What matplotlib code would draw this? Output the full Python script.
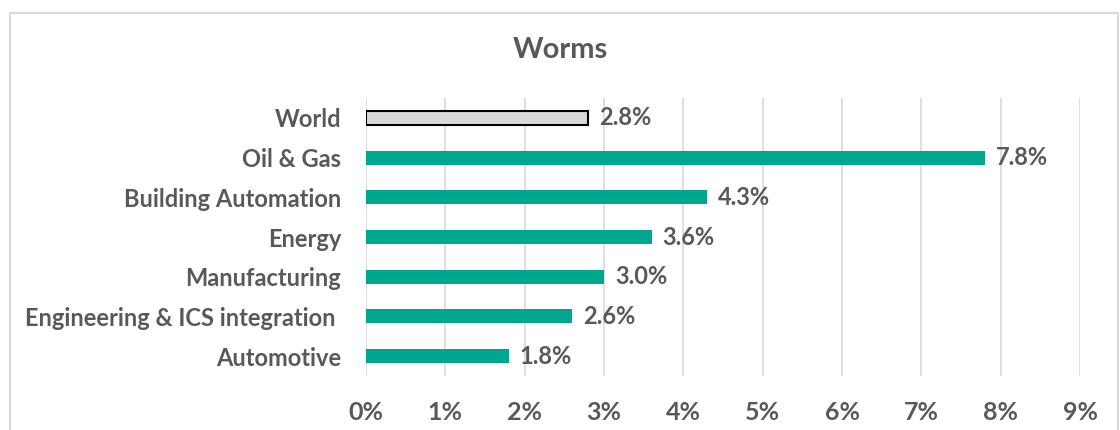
import matplotlib.pyplot as plt
from matplotlib.patches import Rectangle
from matplotlib.ticker import MultipleLocator, FuncFormatter

# === Daten ===
categories = ['World', 'Oil & Gas', 'Building Automation', 'Energy',
              'Manufacturing', 'Engineering & ICS integration ', 'Automotive']
values = [2.8, 7.8, 4.3, 3.6, 3.0, 2.6, 1.8]

text_color = '#595959'
bar_color = '#00A78E'
world_color = '#D9D9D9'

plt.rcParams['font.family'] = ['Lato', 'DejaVu Sans']

fig = plt.figure(figsize=(11.2, 4.3), dpi=100)
ax = fig.add_axes([366 / 1120, 1 - 376 / 430, 714 / 1120, 278 / 430])

# === Rahmen um das Diagramm ===
fig.patches.append(Rectangle((10 / 1120, -0.1), 1108 / 1120, 0.1 + 1 - 13 / 430,
                             transform=fig.transFigure, fill=False,
                             edgecolor='#D9D9D9', linewidth=1.5))

y_pos = list(range(len(categories)))
colors = [world_color] + [bar_color] * (len(categories) - 1)
edges = ['black'] + [bar_color] * (len(categories) - 1)
lws = [1.5] + [0] * (len(categories) - 1)
ax.barh(y_pos, values, height=0.35, color=colors, edgecolor=edges,
        linewidth=lws, zorder=3)

for yi, v in zip(y_pos, values):
    ax.text(v + 0.14, yi, f'{v:.1f}%', va='center', ha='left',
            fontsize=17, fontweight='bold', color=text_color)

ax.set_ylim(len(categories) - 0.5, -0.5)
ax.set_xlim(0, 9)
ax.xaxis.set_major_locator(MultipleLocator(1))
ax.xaxis.set_major_formatter(FuncFormatter(lambda x, p: f'{x:.0f}%'))
ax.set_yticks(y_pos)
ax.set_yticklabels(categories)

ax.grid(axis='x', color='#D9D9D9', linewidth=1.2, zorder=0)
for s in ax.spines.values():
    s.set_visible(False)
ax.tick_params(axis='y', length=0, labelsize=17, labelcolor=text_color, pad=18)
ax.tick_params(axis='x', length=0, labelsize=18, labelcolor=text_color, pad=18)
for lbl in ax.get_xticklabels() + ax.get_yticklabels():
    lbl.set_fontweight('bold')

fig.text(0.5, 1 - 50 / 430, 'Worms', ha='center', va='center',
         fontsize=21, fontweight='bold', color=text_color)

fig.savefig('out.png', dpi=100)
